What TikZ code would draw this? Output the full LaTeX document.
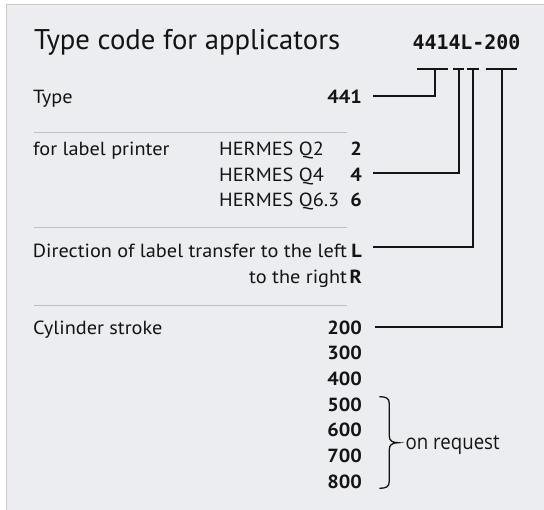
\documentclass[tikz,border=0pt]{standalone}
\usepackage{fontspec}
\newfontfamily\measurefont{PT Sans}
\newfontfamily\measureopen{Open Sans}
\newlength\mylen
\settowidth\mylen{\measurefont\fontsize{19}{20}\selectfont Direction of label transfer to the left}
\pgfmathsetmacro\bodystretch{314/\mylen}
\settowidth\mylen{\measurefont\fontsize{28.5}{30}\selectfont Type code for applicators}
\pgfmathsetmacro\titlestretch{306/\mylen}
\settowidth\mylen{\measureopen\fontsize{21}{22}\selectfont on request}
\pgfmathsetmacro\reqstretch{94/\mylen}
\edef\tmpa{\noexpand\setmainfont{PT Sans}[FakeStretch=\bodystretch]}\tmpa
\edef\tmpb{\noexpand\newfontfamily\noexpand\titlefont{PT Sans}[FakeStretch=\titlestretch]}\tmpb
\edef\tmpc{\noexpand\newfontfamily\noexpand\reqfont{Open Sans}[FakeStretch=\reqstretch]}\tmpc
\newfontfamily\codefont{DejaVu Sans Mono}
\definecolor{bg}{RGB}{236,237,240}
\definecolor{framec}{RGB}{201,201,203}
\definecolor{sepc}{RGB}{192,192,194}
\definecolor{ink}{RGB}{20,20,20}
\begin{document}
\settowidth\mylen{\codefont\bfseries\fontsize{10}{12}\selectfont 4414L-200}%
\pgfmathsetmacro\codesz{10*108/\mylen}%
\begin{tikzpicture}[x=1pt,y=-1pt]
\tikzset{
  body/.style={font=\fontsize{19}{20}\selectfont, inner sep=0pt, text=ink},
  lbl/.style={body, anchor=base west},
  rlbl/.style={body, anchor=base east},
  num/.style={inner sep=0pt, text=ink, anchor=base east, font=\bfseries\fontsize{19}{20}\selectfont},
  conn/.style={line width=1.8pt, draw=ink, line join=miter},
  sepline/.style={draw=sepc, line width=1pt},
  bracebar/.style={line width=1.3pt, draw=ink}
}
\useasboundingbox (0,0) rectangle (544,510);
% background panel
\fill[white] (0,0) rectangle (544,510);
\fill[bg] (6,4) rectangle (544,510);
\draw[framec, line width=1.5pt] (6.5,510) -- (6.5,4.5) -- (544,4.5);

% title and code
\node[inner sep=0pt, text=ink, anchor=base west, font=\titlefont\fontsize{28.5}{30}\selectfont] (title) at (34,50) {Type code for applicators};
\node[inner sep=0pt, text=ink, anchor=base west, font=\codefont\bfseries\fontsize{\codesz}{\codesz}\selectfont] (code) at (412.3,50) {4414L-200};

% rows
\node[lbl] (type) at (33,103.3) {Type};
\node[num] (n441) at (362,103.3) {441};
\draw[sepline] (33.5,133) -- (347,133);

\node[lbl] (printer) at (33,156) {for label printer};
\node[lbl] (q2) at (219,156) {HERMES Q2};
\node[num] (n2) at (362,156) {2};
\node[lbl] (q4) at (219,181.3) {HERMES Q4};
\node[num] (n4) at (362,181.3) {4};
\node[lbl] (q6) at (219,206.7) {HERMES Q6.3};
\node[num] (n6) at (362,206.7) {6};
\draw[sepline] (33.5,227.7) -- (347,227.7);

\node[lbl] (dir) at (32.7,257.5) {Direction of label transfer to the left};
\node[num] (nL) at (362,257.5) {L};
\node[rlbl] (toright) at (347.3,283.3) {to the right};
\node[num] (nR) at (362,283.3) {R};
\draw[sepline] (33.5,305.7) -- (347,305.7);

\node[lbl] (cyl) at (33,335) {Cylinder stroke};
\node[num] (n200) at (362,334.3) {200};
\node[num] (n300) at (362,360) {300};
\node[num] (n400) at (362,385.7) {400};
\node[num] (n500) at (362,411.7) {500};
\node[num] (n600) at (362,436.9) {600};
\node[num] (n700) at (362,462.4) {700};
\node[num] (n800) at (362,488.3) {800};

% on request with brace
\node[inner sep=0pt, text=ink, anchor=base west, font=\reqfont\fontsize{21}{22}\selectfont] (req) at (405.5,449.3) {on request};
\draw[bracebar] (379.3,396.7) .. controls (386,396.7) and (389.3,398) .. (389.3,404)
  -- (389.3,436) .. controls (389.3,440.5) and (392,442.7) .. (398.3,442.7)
  .. controls (392,442.7) and (389.3,445) .. (389.3,449.5)
  -- (389.3,481) .. controls (389.3,487) and (386,488.3) .. (379.3,488.3);

% brackets under the code
\coordinate (t1) at (435,69);
\coordinate (t2) at (459.3,69);
\coordinate (t3) at (472.7,69);
\coordinate (t4) at (502,69);
\draw[conn] (417.3,69) -- (447.7,69);
\draw[conn] (453.3,69) -- (464.3,69);
\draw[conn] (466.7,69) -- (479,69);
\draw[conn] (485.7,69) -- (517.3,69);

% connectors
\draw[conn] (t1) |- ([xshift=11.3pt,yshift=7.3pt]n441.base east);
\draw[conn] (t2) |- ([xshift=11pt,yshift=8.4pt]n4.base east);
\draw[conn] (t3) |- ([xshift=11pt,yshift=10.6pt]nL.base east);
\draw[conn] (t4) |- ([xshift=13pt,yshift=7.6pt]n200.base east);
\end{tikzpicture}
\end{document}
